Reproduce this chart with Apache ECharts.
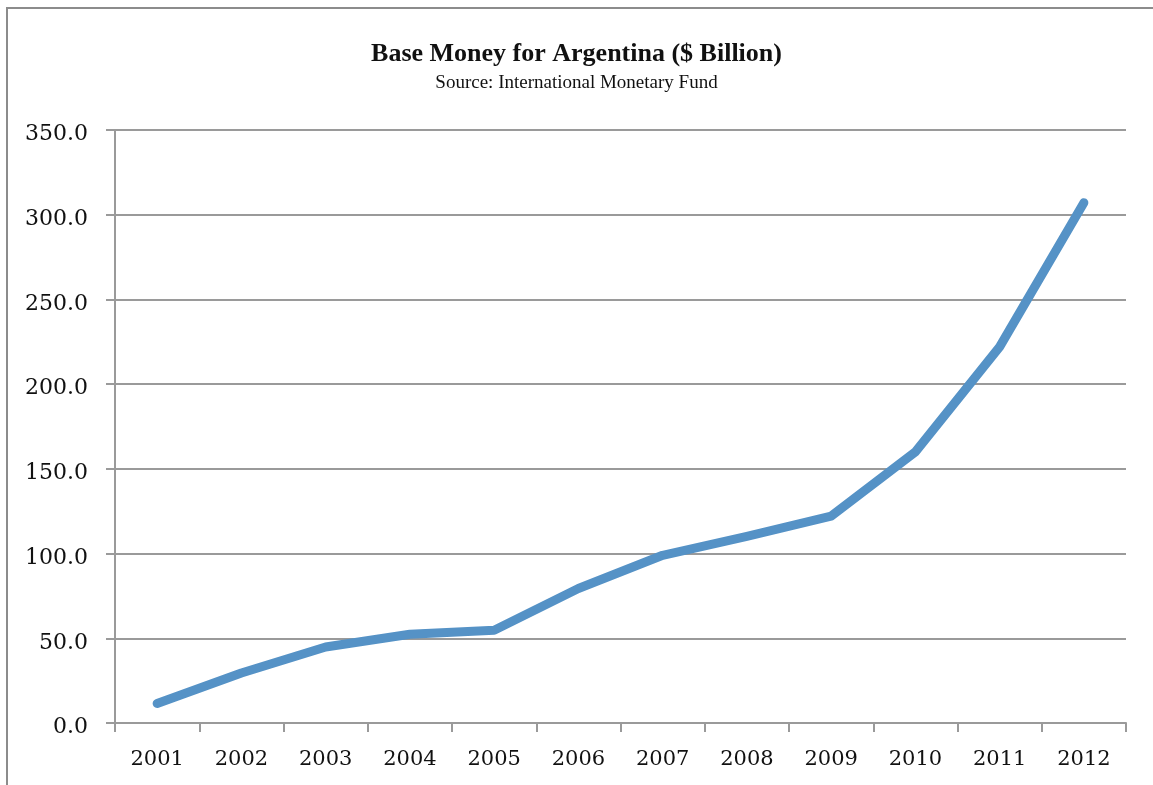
<!DOCTYPE html>
<html>
<head>
<meta charset="utf-8">
<script src="https://cdn.jsdelivr.net/npm/echarts@6/dist/echarts.min.js"></script>
<style>
  html, body { margin: 0; padding: 0; background: #fff; }
  #chart { width: 1153px; height: 785px; }
</style>
</head>
<body>
<div id="chart"></div>
<script>
// Base money, Argentina, $ billion (IMF)
const years = ['2001','2002','2003','2004','2005','2006','2007','2008','2009','2010','2011','2012'];
const baseMoney = [11.5, 29.5, 44.9, 52.4, 54.7, 79.4, 99.0, 110.2, 122.1, 160.0, 222.0, 307.1];
const yMin = 0, yMax = 350, yStep = 50;

const chart = echarts.init(document.getElementById('chart'));
const gray = '#9a9a9a';
const serif = '"DejaVu Serif", "Liberation Serif", serif';

chart.setOption({
  animation: false,
  backgroundColor: '#ffffff',
  graphic: [{
    type: 'rect',
    shape: { x: 7, y: 8, width: 1200, height: 820 },
    style: { fill: 'none', stroke: '#8c8c8c', lineWidth: 2 },
    silent: true
  }],
  title: [{
    text: 'Base Money for Argentina ($ Billion)',
    left: 'center', top: 36,
    textStyle: { fontFamily: '"Liberation Serif", serif', fontWeight: 'bold', fontSize: 26, color: '#111' }
  }, {
    text: 'Source: International Monetary Fund',
    left: 'center', top: 69,
    textStyle: { fontFamily: '"Liberation Serif", serif', fontWeight: 'normal', fontSize: 19, color: '#111' }
  }],
  grid: { left: 115, right: 27, top: 130, bottom: 62, containLabel: false },
  xAxis: {
    type: 'category',
    data: years,
    boundaryGap: true,
    axisLine: { lineStyle: { color: gray, width: 2 } },
    axisTick: { show: true, length: 9, lineStyle: { color: gray, width: 2 } },
    axisLabel: { fontFamily: serif, fontSize: 21, color: '#111', margin: 26 },
    splitLine: { show: false }
  },
  yAxis: {
    type: 'value',
    min: yMin, max: yMax, interval: yStep,
    axisLine: { show: true, lineStyle: { color: gray, width: 2 } },
    axisTick: { show: true, length: 9, lineStyle: { color: gray, width: 2 } },
    axisLabel: {
      margin: 27,
      formatter: v => '{v|' + v.toFixed(1) + '}',
      rich: {
        v: { fontFamily: serif, fontSize: 22, color: '#111', padding: [9, 0, 0, 0] }
      }
    },
    splitLine: { show: true, lineStyle: { color: gray, width: 2 } }
  },
  series: [{
    type: 'line',
    data: baseMoney,
    symbol: 'none',
    lineStyle: { color: '#5592c6', width: 9, cap: 'round', join: 'round' }
  }]
});
</script>
</body>
</html>
